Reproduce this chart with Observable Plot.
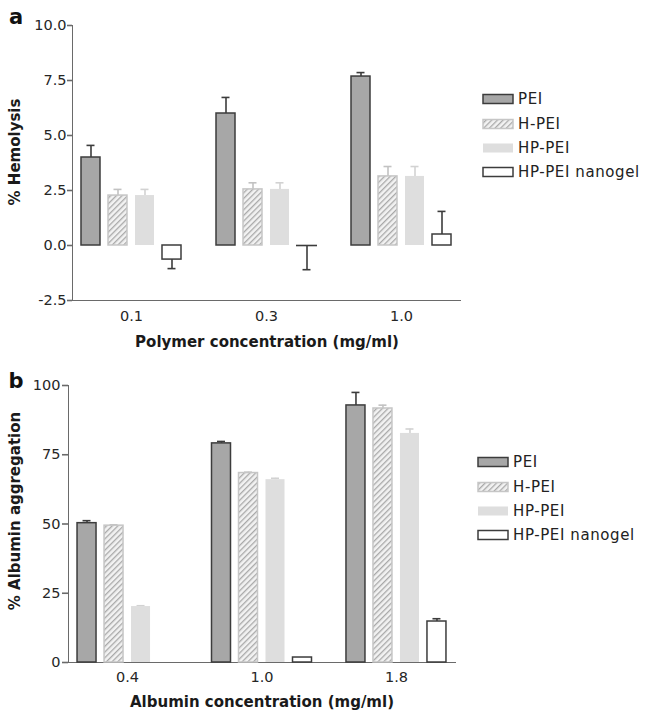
<!DOCTYPE html>
<html><head><meta charset="utf-8">
<script src="https://cdn.jsdelivr.net/npm/d3@7"></script>
<script src="https://cdn.jsdelivr.net/npm/@observablehq/plot@0.6"></script>
<style>
body{margin:0;background:#fff;}
#wrap{position:relative;width:647px;height:712px;overflow:hidden;font-family:"DejaVu Sans",sans-serif;color:#222;background:#fff}
.abs{position:absolute;white-space:nowrap}
.ttl{font-weight:bold;font-size:15px;color:#1a1a1a;transform:translate(-50%,-50%)}
.rot{transform:translate(-50%,-50%) rotate(-90deg)}
.panel{font-weight:bold;font-size:21px;color:#111;transform:translate(-50%,-50%)}
svg.chart text{font-size:14.5px !important;fill:#262626 !important;font-family:"DejaVu Sans",sans-serif !important}
</style></head><body><div id="wrap">
<svg width="0" height="0" style="position:absolute">
  <defs>
    <pattern id="hatch" patternUnits="userSpaceOnUse" width="4" height="4" patternTransform="rotate(45)">
      <rect width="4" height="4" fill="#f2f2f2"></rect>
      <rect width="1.3" height="4" fill="#a9a9a9"></rect>
    </pattern>
  </defs>
</svg>
</div>
<script>
// ---------- data ----------
const seriesNames = ["PEI", "H-PEI", "HP-PEI", "HP-PEI nanogel"];

// Panel a: hemolysis
const groupsA = ["0.1", "0.3", "1.0"];
const peiA = [4.0, 6.0, 7.68];
const hpeiA = [2.27, 2.55, 3.14];
const hppeiA = [2.27, 2.55, 3.14];
const nanogelA = [-0.64, 0.0, 0.5];
const peiErrA = [0.55, 0.73, 0.18];
const hpeiErrA = [0.28, 0.30, 0.45];
const hppeiErrA = [0.28, 0.30, 0.45];
const nanogelErrA = [-0.41, -1.1, 1.05];
const ticksA = [-2.5, 0, 2.5, 5, 7.5, 10];

// Panel b: albumin aggregation
const groupsB = ["0.4", "1.0", "1.8"];
const peiB = [50.3, 79.1, 92.8];
const hpeiB = [49.4, 68.4, 91.7];
const hppeiB = [20.2, 66.0, 82.7];
const nanogelB = [0, 1.8, 14.8];
const peiErrB = [0.9, 0.7, 4.7];
const hpeiErrB = [0.3, 0.3, 1.2];
const hppeiErrB = [0.3, 0.5, 1.6];
const nanogelErrB = [0, 0, 1.0];
const ticksB = [0, 25, 50, 75, 100];

// ---------- styles ----------
const sty = {
  "PEI": {fill: "#a7a7a7", stroke: "#3c3c3c", err: "#3c3c3c"},
  "H-PEI": {fill: "url(#hatch)", stroke: "#c6c6c6", err: "#c2c2c2"},
  "HP-PEI": {fill: "#dedede", stroke: "none", err: "#d2d2d2"},
  "HP-PEI nanogel": {fill: "#ffffff", stroke: "#3c3c3c", err: "#3c3c3c"}
};

function table(groups, vals, errs) {
  const rows = [];
  seriesNames.forEach((s, i) => groups.forEach((g, j) => rows.push({group: g, series: s, value: vals[i][j], err: errs[i][j]})));
  return rows;
}

function panel(cfg) {
  const W = 647;
  const n = cfg.groups.length;
  const pi = 0.2, po = cfg.po;
  const step = (W - cfg.ml - cfg.mr) / (n - pi + 2 * po);
  const bw = step * (1 - pi);
  const barW = 19, barStep = 27, capW = 8;
  const rows = table(cfg.groups, cfg.vals, cfg.errs);
  const marks = [];
  seriesNames.forEach((s, i) => {
    const off = (i - 1.5) * barStep;
    const d = rows.filter(r => r.series === s);
    const st = sty[s];
    const withErr = d.filter(r => r.err !== 0);
    marks.push(Plot.ruleX(withErr, {x: "group", y1: "value", y2: r => r.value + r.err, dx: off, stroke: st.err, strokeWidth: 1.6}));
    marks.push(Plot.tickY(withErr, {x: "group", y: r => r.value + r.err, stroke: st.err, strokeWidth: 1.6,
      insetLeft: bw / 2 + off - capW / 2, insetRight: bw / 2 - off - capW / 2}));
    marks.push(Plot.barY(d.filter(r => r.value !== 0), {x: "group", y1: 0, y2: "value", fill: st.fill, stroke: st.stroke, strokeWidth: 1.5,
      insetLeft: bw / 2 + off - barW / 2, insetRight: bw / 2 - off - barW / 2}));
    marks.push(Plot.tickY(d.filter(r => r.value === 0 && r.err !== 0), {x: "group", y: "value", stroke: st.stroke, strokeWidth: 2.2,
      insetLeft: bw / 2 + off - barW / 2 - 1, insetRight: bw / 2 - off - barW / 2 - 1}));
  });
  const p = Plot.plot({
    width: W, height: cfg.height,
    marginLeft: cfg.ml, marginRight: cfg.mr, marginTop: cfg.mt, marginBottom: cfg.height - cfg.axisY,
    style: {fontFamily: "DejaVu Sans, sans-serif", fontSize: "14.5px", color: "#6a6a6a", background: "transparent"},
    x: {type: "band", domain: cfg.groups, paddingInner: pi, paddingOuter: po, align: 0.5, round: false,
        tickSize: 0, tickPadding: cfg.xpad, line: true, label: null},
    y: {domain: cfg.ydomain, ticks: cfg.ticks, tickFormat: cfg.fmt, tickSize: cfg.tsize, tickPadding: cfg.tpad, line: true, label: null},
    marks
  });
  p.classList.add("chart");
  return p;
}

const wrap = document.getElementById("wrap");
const hyphenFmt = f => v => f(v).replace("\u2212", "-");

const plotA = panel({groups: groupsA, vals: [peiA, hpeiA, hppeiA, nanogelA], errs: [peiErrA, hpeiErrA, hppeiErrA, nanogelErrA],
  height: 358, ml: 72, mr: 187, mt: 25, axisY: 300, po: 0.037, ydomain: [-2.5, 10], ticks: ticksA, fmt: hyphenFmt(d3.format(".1f")),
  tsize: 5, tpad: 1, xpad: 10});
plotA.style.position = "absolute"; plotA.style.left = "0px"; plotA.style.top = "0px";
wrap.appendChild(plotA);

const plotB = panel({groups: groupsB, vals: [peiB, hpeiB, hppeiB, nanogelB], errs: [peiErrB, hpeiErrB, hppeiErrB, nanogelErrB],
  height: 352, ml: 68, mr: 192, mt: 25, axisY: 302, po: 0.039, ydomain: [0, 100], ticks: ticksB, fmt: d3.format("d"),
  tsize: 6, tpad: 2, xpad: 9});
plotB.style.position = "absolute"; plotB.style.left = "0px"; plotB.style.top = "360px";
wrap.appendChild(plotB);

// thicker axis lines / ticks
d3.selectAll(".chart [aria-label$='axis line'], .chart [aria-label$='tick']").attr("stroke-width", 1.6);

// ---------- text ----------
function label(txt, x, y, cls) {
  const d = document.createElement("div");
  d.className = "abs " + cls;
  d.style.left = x + "px"; d.style.top = y + "px";
  d.textContent = txt;
  wrap.appendChild(d);
}
label("a", 16, 17, "panel");
label("b", 16, 381, "panel");
label("% Hemolysis", 15, 152, "ttl rot");
label("% Albumin aggregation", 15, 511, "ttl rot");
label("Polymer concentration (mg/ml)", 267, 342, "ttl");
label("Albumin concentration (mg/ml)", 262, 702, "ttl");

// ---------- legends ----------
function legend(x, ys) {
  const svg = d3.select(wrap).append("svg").attr("width", 647).attr("height", 712)
    .style("position", "absolute").style("left", "0px").style("top", "0px").style("pointer-events", "none");
  seriesNames.forEach((s, i) => {
    const st = sty[s];
    svg.append("rect").attr("x", x).attr("y", ys[i] - 4.5).attr("width", 30).attr("height", 9)
      .attr("fill", st.fill).attr("stroke", st.stroke).attr("stroke-width", 1.5);
    svg.append("text").attr("x", x + 35).attr("y", ys[i]).attr("dy", "0.36em")
      .attr("font-family", "DejaVu Sans, sans-serif").attr("font-size", 15).attr("letter-spacing", "0.6px")
      .attr("fill", "#222").text(s);
  });
}
legend(483, [99, 124, 148, 172]);
legend(478, [462, 487, 511, 535]);
</script>
</body></html>
